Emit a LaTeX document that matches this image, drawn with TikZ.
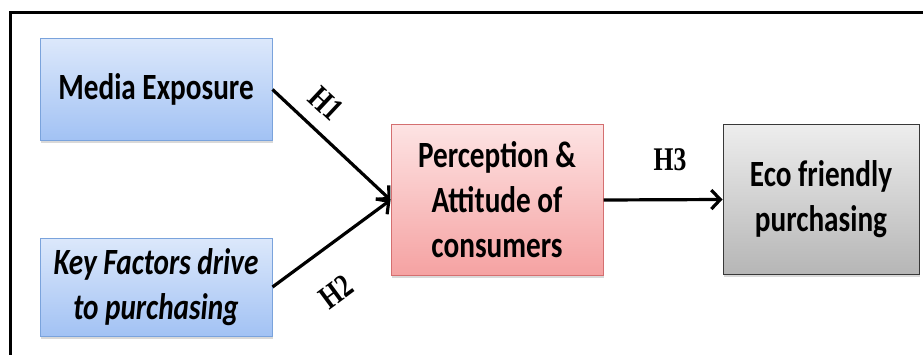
\documentclass[tikz,border=0pt]{standalone}
\usepackage{fontspec}
\newfontfamily\boxfont{Carlito}[FakeStretch=0.79]
\newfontfamily\hypfont{Liberation Serif}[FakeStretch=0.78]
\usetikzlibrary{positioning, arrows.meta, shadows}

\definecolor{blueTop}{HTML}{DCE8FB}
\definecolor{blueBot}{HTML}{A2C2F4}
\definecolor{blueLine}{HTML}{7AA3DC}
\definecolor{redTop}{HTML}{FDE3E3}
\definecolor{redBot}{HTML}{F5A2A2}
\definecolor{redLine}{HTML}{D46F70}
\definecolor{grayTop}{HTML}{EDEDED}
\definecolor{grayBot}{HTML}{B6B6B6}
\definecolor{grayLine}{HTML}{383838}

\begin{document}
\begin{tikzpicture}[x=1pt, y=1pt,
  box/.style={line width=1pt, align=center, inner sep=0pt,
    font=\boxfont\bfseries\fontsize{37}{45}\selectfont,
    drop shadow={opacity=0.3, shadow xshift=1pt, shadow yshift=-3pt}},
  inbox/.style={box, draw=blueLine, top color=blueTop, bottom color=blueBot,
    minimum width=232pt},
  midbox/.style={box, draw=redLine, top color=redTop, bottom color=redBot,
    minimum width=212pt, minimum height=150pt},
  outbox/.style={box, draw=grayLine, top color=grayTop, bottom color=grayBot,
    minimum width=196pt, minimum height=149pt},
  hyp/.style={font=\hypfont\bfseries\fontsize{33}{36}\selectfont, inner sep=0pt, sloped},
  link/.style={line width=3.2pt, -{Straight Barb[length=9pt,width=19pt]}}]
\useasboundingbox (0,0) rectangle (923,354);
\draw[line width=3pt] (10,341) rectangle (945,-20);

\node[inbox, minimum height=101pt] (media) at (156,264.5) {Media Exposure};
\node[inbox, minimum height=98pt] (factors) at (156,67) {\itshape Key Factors drive\\\itshape to purchasing};
\node[midbox] (percep) at (497,154) {Perception \&\\Attitude of\\consumers};
\node[outbox] (eco) at (821,154.5) {Eco friendly\\purchasing};

\draw[link] (media.east) -- (percep.west) node[hyp, pos=0.3, above=14pt] {H1};
\draw[link] (factors.east) -- (percep.west) node[hyp, pos=0.33, below=29pt] {H2};
\draw[link] (percep.east) -- (eco.west) node[hyp, pos=0.56, above=27pt] {H3};
\end{tikzpicture}
\end{document}
